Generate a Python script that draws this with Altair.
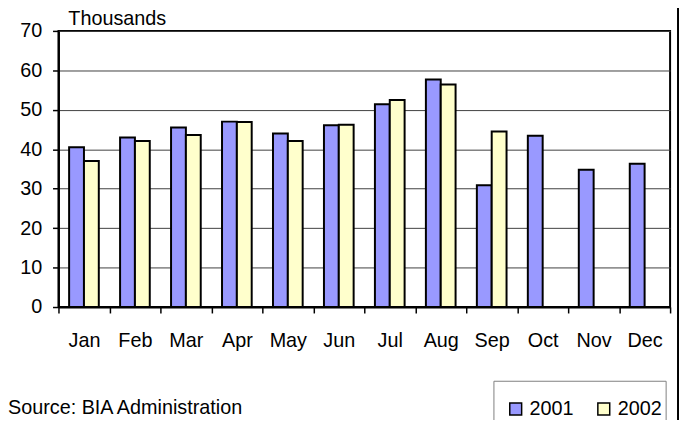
import altair as alt
import pandas as pd

months = ["Jan", "Feb", "Mar", "Apr", "May", "Jun", "Jul", "Aug", "Sep", "Oct", "Nov", "Dec"]
values_2001 = [40.5, 43.0, 45.5, 47.0, 44.0, 46.1, 51.4, 57.7, 30.9, 43.4, 34.8, 36.3]
values_2002 = [37.0, 42.1, 43.6, 46.9, 42.1, 46.2, 52.5, 56.4, 44.5, None, None, None]
years = ["2001", "2002"]
y_ticks = [0, 10, 20, 30, 40, 50, 60, 70]
unit_label = "Thousands"
source_label = "Source: BIA Administration"

rows = []
for m, a, b in zip(months, values_2001, values_2002):
    if a is not None:
        rows.append({"month": m, "year": "2001", "value": a})
    if b is not None:
        rows.append({"month": m, "year": "2002", "value": b})
df = pd.DataFrame(rows)

FONT = "Liberation Sans"
FS = 20

bars = alt.Chart(df).mark_bar(stroke="black", strokeWidth=2).encode(
    x=alt.X(
        "month:N",
        sort=months,
        scale=alt.Scale(paddingInner=0, paddingOuter=0),
        axis=alt.Axis(
            title=None, labelAngle=0, tickBand="extent", tickSize=6,
            tickColor="black", tickWidth=1.5, domainColor="black", domainWidth=2,
            labelFont=FONT, labelFontSize=FS, labelColor="black", labelPadding=18,
            grid=False,
        ),
    ),
    xOffset=alt.XOffset("year:N", scale=alt.Scale(paddingInner=0, paddingOuter=0.717)),
    y=alt.Y(
        "value:Q",
        scale=alt.Scale(domain=[0, 70], nice=False),
        axis=alt.Axis(
            title=None, values=y_ticks, grid=True, gridColor="#404040", gridWidth=1,
            tickSize=6, tickColor="black", tickWidth=1.5, domainColor="black", domainWidth=2,
            labelFont=FONT, labelFontSize=FS, labelColor="black", labelPadding=11,
        ),
    ),
    color=alt.Color(
        "year:N",
        scale=alt.Scale(domain=years, range=["#9999FF", "#FFFFCC"]),
        legend=alt.Legend(
            title=None, orient="none", legendX=452, legendY=372, direction="horizontal",
            symbolType="square", symbolSize=144, symbolStrokeColor="black",
            symbolStrokeWidth=1.5, labelFont=FONT, labelFontSize=FS, labelColor="black",
            labelOffset=4, columnPadding=20, padding=0,
        ),
    ),
)

legend_box = alt.Chart(pd.DataFrame({"k": [0]})).mark_rect(
    fill="white", stroke="#808080", strokeWidth=1
).encode(x=alt.value(440), x2=alt.value(614), y=alt.value(354), y2=alt.value(420))

unit_text = alt.Chart(pd.DataFrame({"t": [unit_label]})).mark_text(
    align="left", baseline="alphabetic", font=FONT, fontSize=FS, color="black"
).encode(text="t:N", x=alt.value(10), y=alt.value(-6))

source_text = alt.Chart(pd.DataFrame({"t": [source_label]})).mark_text(
    align="left", baseline="alphabetic", font=FONT, fontSize=FS, color="black"
).encode(text="t:N", x=alt.value(-51), y=alt.value(387))

outer_line = alt.Chart(pd.DataFrame({"k": [0]})).mark_rule(
    color="black", strokeWidth=2
).encode(x=alt.value(626), y=alt.value(-30), y2=alt.value(420))

chart = alt.layer(legend_box, bars, unit_text, source_text, outer_line).properties(
    width=618, height=279,
    padding={"left": 51, "top": 21, "right": 9, "bottom": 112},
    autosize=alt.AutoSizeParams(type="none"),
).configure_view(stroke="black", strokeWidth=2)

chart.save("out.html", embed_options={"renderer": "svg", "actions": False})
